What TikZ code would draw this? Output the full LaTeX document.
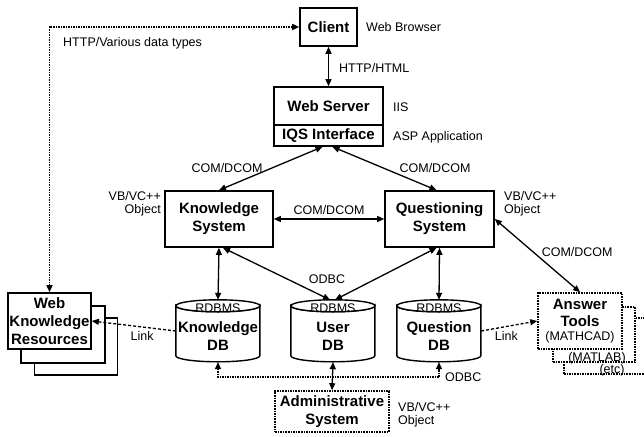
\documentclass[tikz,border=0pt]{standalone}
\usepackage{fontspec}
\setmainfont{Liberation Sans}
\usetikzlibrary{arrows.meta}
\begin{document}
\begin{tikzpicture}[x=1pt, y=-1pt,
    >={Triangle[length=7pt,width=6pt]},
    box/.style={rectangle, draw, line width=1.6pt, fill=white, align=center,
      font=\fontsize{15}{18}\selectfont\bfseries, inner sep=0pt},
    dotbox/.style={box, densely dotted},
    dbase/.style={rectangle, minimum width=84pt, minimum height=62pt, inner sep=0pt},
    dbline/.style={line width=1.4pt, fill=white},
    lbl/.style={font=\fontsize{12.5}{13}\selectfont, inner sep=0pt, align=left},
    dblbl/.style={font=\fontsize{15}{18}\selectfont\bfseries, inner sep=0pt, align=center},
    conn/.style={<->, line width=1.3pt},
    link/.style={->, line width=1.3pt, densely dashed},
    dotline/.style={<->, line width=1.5pt, densely dotted}]
  \useasboundingbox (0,0) rectangle (644,436);
  % top tier
  \node[box, minimum width=57pt, minimum height=38pt] (Client) at (328.5,27) {Client};
  \node[lbl, anchor=west] (CL) at (366,27) {Web Browser};
  \node[box, minimum width=109pt, minimum height=38pt] (WS) at (328.5,106) {Web Server};
  \node[lbl, anchor=west] (WSL) at (393,107) {IIS};
  \node[box, minimum width=109pt, minimum height=21pt] (IQS) at (328.5,135.5) {IQS Interface};
  \node[lbl, anchor=west] (IQSL) at (393,137) {ASP Application};
  \draw[conn] (Client) -- (WS) node[lbl, pos=.55, right=10pt] {HTTP/HTML};
  % systems
  \node[box, minimum width=108pt, minimum height=56pt] (KS) at (219,219) {Knowledge\\System};
  \node[lbl, anchor=east, align=right] (KSL) at (161,204) {VB/VC++\\Object};
  \node[box, minimum width=109pt, minimum height=56pt] (QS) at (439.5,219) {Questioning\\System};
  \node[lbl, anchor=west] (QSL) at (504,204) {VB/VC++\\Object};
  \draw[conn] ([xshift=-6pt]IQS.south) -- (KS.north);
  \draw[conn] ([xshift=4pt]IQS.south) -- ([xshift=-3pt]QS.north);
  \node[lbl] at (227,168) {COM/DCOM};
  \node[lbl] at (435,168) {COM/DCOM};
  \draw[conn] (KS) -- (QS) node[lbl, midway, above=4pt] {COM/DCOM};
  % databases
  \node[dbase] (KDB) at (218,331) {};
  \node[dbase] (UDB) at (333,331) {};
  \node[dbase] (QDB) at (439,331) {};
  \foreach \n/\t in {KDB/Knowledge, UDB/User, QDB/Question} {
    \draw[dbline] (\n.north west) ++(0,6) -- ++(0,50)
      arc[start angle=180, end angle=0, x radius=42, y radius=6] -- ++(0,-50)
      arc[start angle=0, end angle=180, x radius=42, y radius=6] -- cycle;
    \draw[dbline] (\n.north) ++(0,6) ellipse[x radius=42, y radius=6];
    \node[lbl] at ([yshift=23pt]\n.center) {RDBMS};
    \node[dblbl] at ([yshift=-5.5pt]\n.center) {\t\\DB};
  }
  \draw[conn] (KS.south) -- (KDB.north);
  \draw[conn] (QS.south) -- (QDB.north);
  \draw[conn] ([xshift=4pt]KS.south) -- ([xshift=-3pt]UDB.north);
  \draw[conn] ([xshift=-3pt]QS.south) -- ([xshift=2pt]UDB.north);
  \node[lbl] at (327,279) {ODBC};
  % web knowledge resources
  \node[box, minimum width=83pt, minimum height=57pt] (WKR3) at (76,346.5) {};
  \node[box, minimum width=84pt, minimum height=57pt] (WKR2) at (63,334.5) {};
  \node[box, minimum width=83pt, minimum height=56pt] (WKR) at (49.5,321) {Web\\Knowledge\\Resources};
  \draw[link] (KDB.west) -- (WKR.east) node[lbl, pos=.4, below=4pt] {Link};
  \draw[dotline] (WKR.north) |- (Client.west);
  \node[lbl, anchor=west] (HL) at (63,43) {HTTP/Various data types};
  % answer tools
  \node[dotbox, minimum width=84pt, minimum height=56pt] (AT3) at (606,346) {};
  \node[lbl, anchor=south] at ([xshift=6pt, yshift=-1pt]AT3.south) {(etc)};
  \node[dotbox, minimum width=82pt, minimum height=55pt] (AT2) at (594,334.5) {};
  \node[lbl, anchor=south] at ([xshift=3pt, yshift=-1pt]AT2.south) {(MATLAB)};
  \node[dotbox, minimum width=84pt, minimum height=56pt] (AT) at (580,321)
    {Answer\\[-1pt]Tools\\[-4pt]{\fontsize{12.5}{13}\selectfont\mdseries (MATHCAD)}};
  \draw[link] (QDB.east) -- (AT.west) node[lbl, pos=.45, below=4pt] {Link};
  \draw[conn] (QS.east) -- (AT.north) node[lbl, pos=.45, right=8pt] {COM/DCOM};
  % administration
  \node[dotbox, minimum width=114pt, minimum height=41pt] (Admin) at (332,411.5) {Administrative\\System};
  \node[lbl, anchor=west] (AL) at (398,415) {VB/VC++\\Object};
  \draw[conn] (UDB.south) -- (Admin.north);
  \draw[dotline] (KDB.south) -- ++(0,15) -| (QDB.south);
  \node[lbl, anchor=west] (OL) at (445,377) {ODBC};
\end{tikzpicture}
\end{document}
